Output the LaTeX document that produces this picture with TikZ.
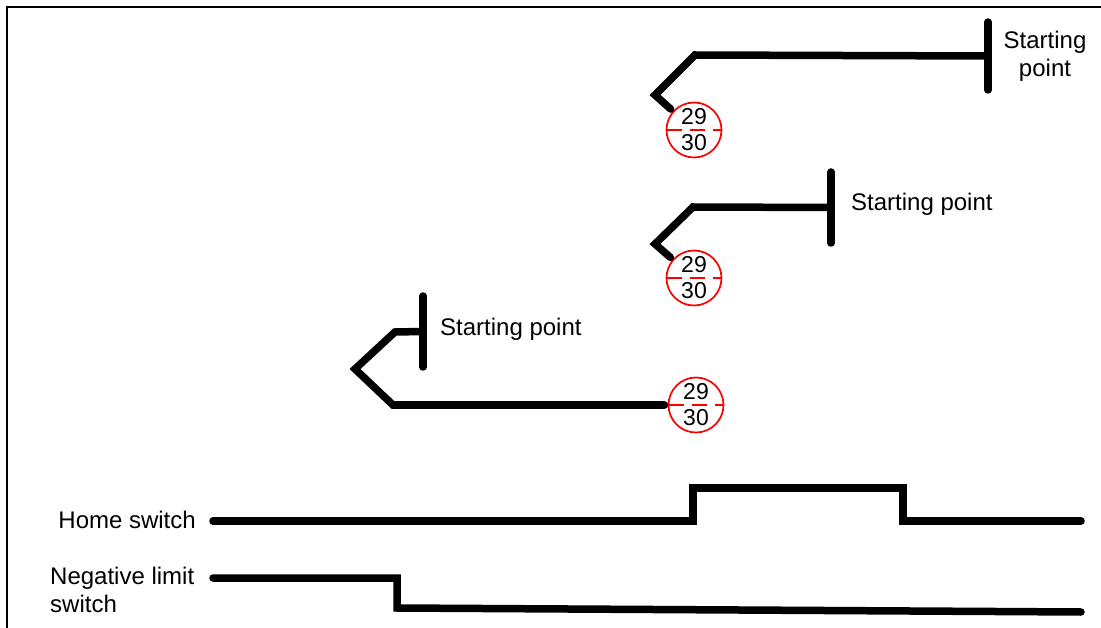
\documentclass[tikz,border=0pt]{standalone}
\usepackage{fontspec}
\setmainfont{Liberation Sans}
\usetikzlibrary{calc}

\begin{document}
\begin{tikzpicture}[x=1pt,y=-1pt,
  sig/.style={line width=7.5pt,line cap=round},
  pointc/.style={circle,draw=red,line width=1.7pt,minimum size=55pt,inner sep=0pt,
                 align=center,font=\fontsize{23}{26}\selectfont,
                 path picture={\draw[red,line width=1.7pt,dash pattern=on 15pt off 8pt]
                   (path picture bounding box.west) -- (path picture bounding box.east);}},
  lbl/.style={font=\fontsize{24}{28}\selectfont,inner sep=0pt}
]
\useasboundingbox (0,0) rectangle (1101,628);

% Frame
\draw[line width=2.5pt] (7,628) -- (7,7) -- (1101,7);

% Circles
\foreach \n/\x/\y in {1/694/130, 2/694/278, 3/696/405}
  \node[pointc] (c\n) at (\x,\y) {29\\30};

% Starting bars
\foreach \n/\x/\ya/\yb in {1/988/22/90, 2/831/172/243, 3/423/296/367}
{
  \coordinate (t\n) at (\x,\ya);
  \coordinate (b\n) at (\x,\yb);
  \draw[sig] (t\n) -- (b\n);
}

% Labels
\node[lbl,align=center] (sp1) at (1045,56) {Starting\\point};
\node[lbl,anchor=west] (sp2) at (851,204) {Starting point};
\node[lbl,anchor=west] (sp3) at (440,329) {Starting point};
\node[lbl,anchor=east] (hs) at (196,520) {Home switch};
\node[lbl,anchor=west,align=left] (nl) at (50,590) {Negative limit\\switch};

% Search paths
\draw[sig,shorten >=3pt] ($(t1)!.5!(b1)$) -- (695,55) -- (655,95) -- (c1);
\draw[sig,shorten >=3pt] ($(t2)!.5!(b2)$) -- (693,207) -- (655,244) -- (c2);
\draw[sig,shorten >=3pt] ($(t3)!.5!(b3)$) -- (395,332) -- (355,369)
  -- (393,405) -- (c3);

% Switch signals
\coordinate (hsL) at (213,521);
\coordinate (hsR) at (1081,521);
\draw[sig] (hsL) -| (693,488) -| (903,521) -- (hsR);
\coordinate (nlL) at (213,578);
\coordinate (nlR) at (1081,612);
\draw[sig] (nlL) -| (397,608) -- (nlR);
\end{tikzpicture}
\end{document}
